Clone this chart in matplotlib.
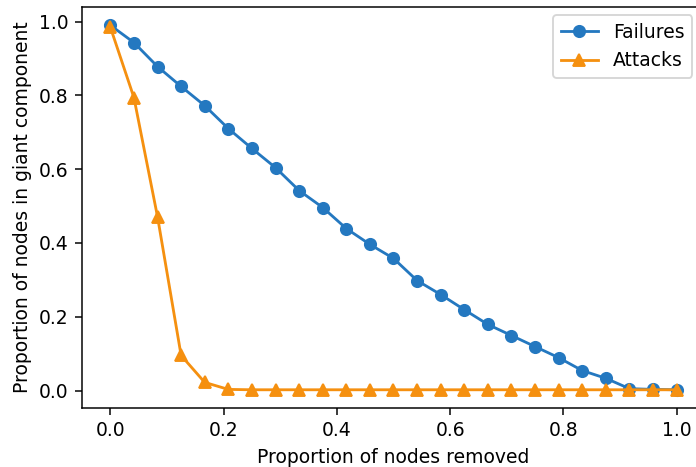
import matplotlib
matplotlib.use("Agg")
import matplotlib.pyplot as plt
import numpy as np

# proportion of nodes removed (25 steps from 0 to 1)
removed = np.linspace(0, 1, 25)

# size of the giant component for random failures
failures = [0.99, 0.943, 0.878, 0.824, 0.772, 0.71, 0.656, 0.604, 0.542,
            0.496, 0.439, 0.396, 0.358, 0.298, 0.26, 0.219, 0.179, 0.149,
            0.119, 0.089, 0.054, 0.033, 0.005, 0.003, 0.002]

# size of the giant component for targeted attacks
attacks = [0.985, 0.794, 0.471, 0.095, 0.022, 0.003, 0.002, 0.002, 0.002,
           0.002, 0.002, 0.002, 0.002, 0.002, 0.002, 0.002, 0.002, 0.002,
           0.002, 0.002, 0.002, 0.002, 0.002, 0.002, 0.002]

dpi = 135
fig = plt.figure(figsize=(696 / dpi, 467 / dpi), dpi=dpi)
# the original picture is cropped on the right, so the axes run past the edge
ax = fig.add_axes([82 / 696, 59 / 467, 623 / 696, 401 / 467])

ax.plot(removed, failures, marker="o", c="#2478c0", label="Failures")
ax.plot(removed, attacks, marker="^", c="#f59010", label="Attacks")

ax.set_xlabel("Proportion of nodes removed")
ax.set_ylabel("Proportion of nodes in giant component")
ax.legend(loc="upper right", bbox_to_anchor=(0.9946, 1.0025))

fig.savefig("out.png", dpi=dpi)
